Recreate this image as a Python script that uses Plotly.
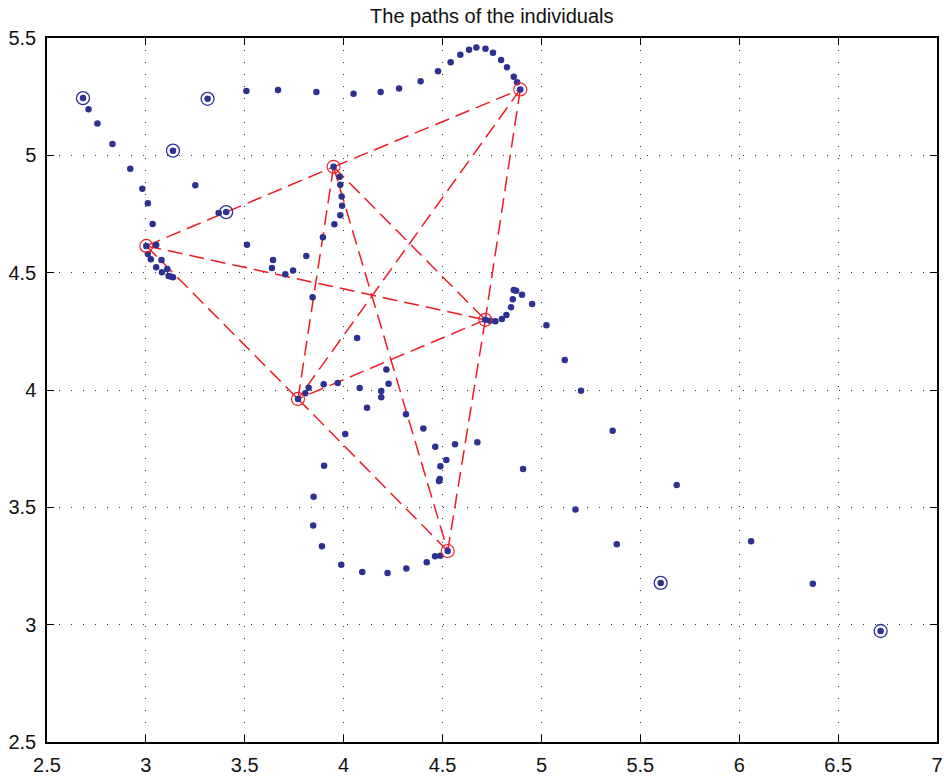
import itertools
import plotly.graph_objects as go

# Final positions of the individuals (red circles)
final_x = [3.002, 3.949, 4.893, 4.716, 3.769, 4.526]
final_y = [4.614, 4.951, 5.281, 4.299, 3.962, 3.314]

# Starting positions (blue circles)
start_x = [2.682, 3.312, 3.137, 3.406, 5.603, 6.715]
start_y = [5.244, 5.241, 5.020, 4.758, 3.178, 2.973]

# Intermediate path points (blue dots)
dots_x = [
    2.710, 2.755, 2.831, 2.921, 2.982, 3.010, 3.034, 3.052, 3.010, 3.025,
    3.079, 3.052, 3.081, 3.108, 3.115, 3.137, 3.125,
    3.508, 3.668, 3.862, 4.050, 4.187, 4.280, 4.389, 4.477, 4.541, 4.590,
    4.634, 4.671, 4.717, 4.755, 4.796, 4.826, 4.860, 4.877,
    3.250, 3.368, 3.511, 3.643, 3.637, 3.705, 3.744, 3.811, 3.895, 3.953,
    3.983, 3.992, 3.990, 3.983, 3.980,
    3.843, 4.068, 4.216, 4.227, 4.190, 4.190, 4.118, 4.315, 4.081, 3.970,
    3.899, 3.823, 3.806,
    4.740, 4.767, 4.800, 4.823, 4.846, 4.855, 4.860, 4.872, 4.902, 4.953,
    5.025, 5.118, 5.200, 5.360, 4.907, 5.684, 5.172, 5.381, 6.060, 6.372,
    4.008, 4.403, 4.463, 4.563, 4.676, 4.519, 4.489, 4.486, 4.482,
    3.901, 3.848, 3.846, 3.890, 3.988, 4.094, 4.222, 4.317, 4.420, 4.462,
    4.489,
]
dots_y = [
    5.196, 5.136, 5.048, 4.943, 4.858, 4.796, 4.707, 4.618, 4.580, 4.557,
    4.554, 4.523, 4.502, 4.516, 4.486, 4.480, 4.484,
    5.274, 5.278, 5.270, 5.262, 5.270, 5.285, 5.316, 5.358, 5.397, 5.429,
    5.450, 5.460, 5.454, 5.437, 5.406, 5.375, 5.335, 5.311,
    4.872, 4.754, 4.619, 4.554, 4.520, 4.493, 4.509, 4.571, 4.651, 4.706,
    4.745, 4.785, 4.825, 4.875, 4.909,
    4.395, 4.222, 4.087, 4.027, 3.996, 3.969, 3.924, 3.897, 4.008, 4.030,
    4.025, 4.010, 3.986,
    4.295, 4.293, 4.303, 4.320, 4.353, 4.387, 4.426, 4.423, 4.406, 4.367,
    4.276, 4.128, 3.997, 3.826, 3.663, 3.595, 3.491, 3.343, 3.356, 3.174,
    3.812, 3.836, 3.758, 3.769, 3.777, 3.702, 3.675, 3.621, 3.612,
    3.677, 3.545, 3.423, 3.334, 3.255, 3.224, 3.220, 3.239, 3.266, 3.292,
    3.294,
]

# Pairs of final positions joined by a dashed link
# (the three long outer edges pass through the midpoints, so they are drawn
#  as their two halves)
links = [pair for pair in itertools.combinations(range(6), 2)
         if pair not in [(0, 2), (0, 5), (2, 5)]]

x_ticks = [2.5, 3, 3.5, 4, 4.5, 5, 5.5, 6, 6.5, 7]
y_ticks = [2.5, 3, 3.5, 4, 4.5, 5, 5.5]

BLUE = "#2e3192"
RED = "#ed1c24"
FONT = "Liberation Sans, Arial, sans-serif"

fig = go.Figure()

for i, j in links:
    fig.add_trace(go.Scatter(
        x=[final_x[i], final_x[j]], y=[final_y[i], final_y[j]],
        mode="lines", line=dict(color=RED, width=1.5, dash="15px,7px"),
        hoverinfo="skip", showlegend=False))

fig.add_trace(go.Scatter(
    x=dots_x + start_x + final_x, y=dots_y + start_y + final_y,
    mode="markers", marker=dict(color=BLUE, size=6.5, line=dict(width=0)),
    showlegend=False))

fig.add_trace(go.Scatter(
    x=start_x, y=start_y, mode="markers",
    marker=dict(symbol="circle-open", color=BLUE, size=13, line=dict(width=1.3)),
    showlegend=False))

fig.add_trace(go.Scatter(
    x=final_x, y=final_y, mode="markers",
    marker=dict(symbol="circle-open", color=RED, size=13, line=dict(width=1.1)),
    showlegend=False))

axis_common = dict(
    showline=True, linecolor="black", linewidth=1.5, mirror="allticks",
    ticks="inside", ticklen=7, tickcolor="black", tickwidth=1,
    showgrid=True, gridcolor="#333333", gridwidth=1, griddash="1px,11px",
    zeroline=False, automargin=False,
    tickfont=dict(family=FONT, size=20, color="#111111"),
)

fig.update_xaxes(range=[2.5, 7], tickvals=x_ticks,
                 ticktext=[f"{v:g}" for v in x_ticks], ticklabelstandoff=4,
                 **axis_common)
fig.update_yaxes(range=[2.5, 5.5], tickvals=y_ticks,
                 ticktext=[f"{v:g}" for v in y_ticks], ticklabelstandoff=5,
                 **axis_common)

fig.update_layout(
    width=944, height=776,
    margin=dict(l=47, r=7, t=38, b=34),
    paper_bgcolor="white", plot_bgcolor="white",
    title=dict(text="The paths of the individuals", x=0.521, xanchor="center",
               y=0.979, yanchor="middle",
               font=dict(family=FONT, size=20, color="#111111")),
    font=dict(family=FONT),
)

fig.write_html(
    "out.html",
    config={"displayModeBar": False},
    post_script="document.body.style.margin='0';document.body.style.overflow='hidden';",
)
